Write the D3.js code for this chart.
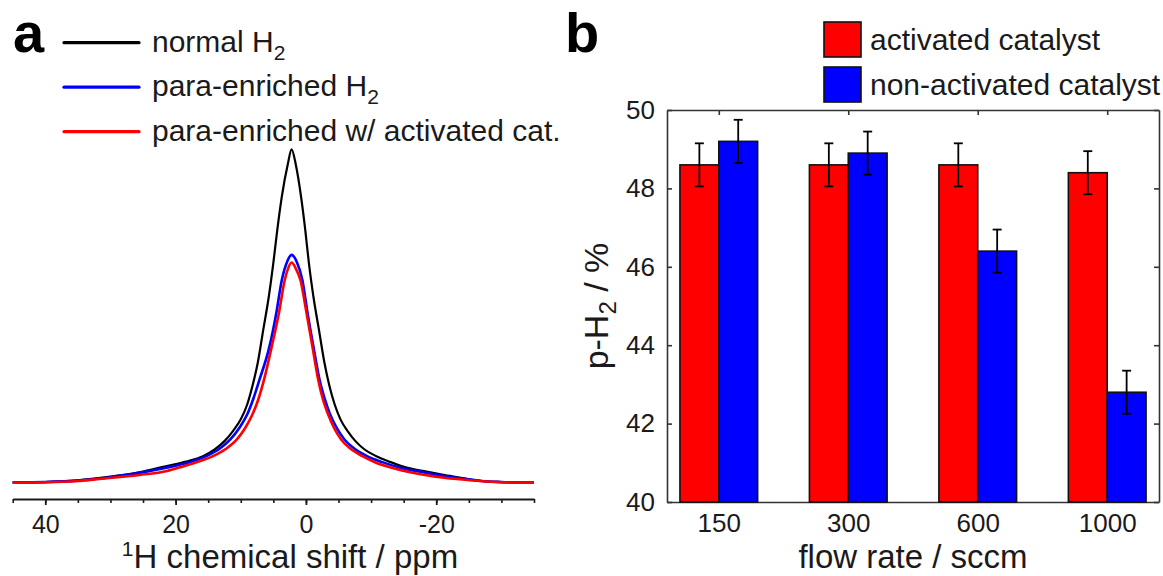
<!DOCTYPE html>
<html>
<head>
<meta charset="utf-8">
<script src="https://cdn.jsdelivr.net/npm/d3@7"></script>
<style>
  body { margin: 0; background: #fff; }
  svg { display: block; font-family: "Liberation Sans", Arial, Helvetica, sans-serif; }
</style>
</head>
<body>
<svg id="chart" width="1163" height="576"></svg>
<script>
// panel a: 1H spectra, [ppm, intensity relative to the normal H2 peak]
const normalH2 = [
    [45, 0.002], [40, 0.003], [35, 0.008], [30, 0.019], [26, 0.03], [22.6, 0.045],
    [18.6, 0.063], [15.8, 0.08], [14, 0.1], [12.5, 0.125], [11.2, 0.155], [10, 0.19],
    [9.0, 0.235], [8.2, 0.29], [7.4, 0.358], [6.55, 0.457], [5.7, 0.556], [5.0, 0.657],
    [4.4, 0.755], [3.7, 0.855], [2.8, 0.95], [2.2, 0.996], [1.55, 0.95], [0.75, 0.855],
    [0.1, 0.755], [-0.45, 0.657], [-1.15, 0.556], [-2.0, 0.457], [-2.85, 0.358], [-3.6, 0.29],
    [-4.4, 0.235], [-5.3, 0.19], [-6.4, 0.155], [-7.6, 0.125], [-9.0, 0.1], [-10.8, 0.08],
    [-12.9, 0.063], [-15.6, 0.045], [-18.5, 0.034], [-21.3, 0.024], [-24.5, 0.013],
    [-27, 0.006], [-30, 0.003], [-35, 0.001]
];
const paraH2 = [
    [45, 0.002], [40, 0.003], [35, 0.007], [30, 0.017], [27.8, 0.024], [24.5, 0.034],
    [21.6, 0.045], [17.8, 0.063], [15.2, 0.081], [13.2, 0.103], [11.6, 0.13], [10.2, 0.165],
    [9.0, 0.205], [8.1, 0.25], [7.15, 0.307], [5.6, 0.407], [4.55, 0.507], [3.7, 0.606],
    [2.9, 0.66], [2.2, 0.681], [1.4, 0.66], [0.55, 0.606], [-0.25, 0.507], [-1.15, 0.407],
    [-2.1, 0.307], [-2.9, 0.25], [-3.7, 0.205], [-4.7, 0.165], [-5.9, 0.13], [-7.4, 0.103],
    [-9.3, 0.081], [-11.6, 0.063], [-14.6, 0.045], [-17.5, 0.034], [-20.3, 0.024],
    [-24, 0.013], [-27, 0.006], [-30, 0.003], [-35, 0.001]
];
const paraActivated = [
    [45, 0.001], [40, 0.002], [35, 0.006], [31.7, 0.012], [28.5, 0.018], [25.5, 0.024],
    [21.3, 0.036], [19.3, 0.047], [16.8, 0.062], [14.2, 0.081], [12.2, 0.103], [10.6, 0.13],
    [9.3, 0.165], [8.2, 0.205], [7.3, 0.25], [6.45, 0.307], [5.25, 0.407], [4.15, 0.507],
    [3.25, 0.606], [2.75, 0.64], [2.2, 0.658], [1.55, 0.64], [0.85, 0.606], [-0.1, 0.507],
    [-1.0, 0.407], [-1.9, 0.307], [-2.6, 0.25], [-3.4, 0.205], [-4.3, 0.165], [-5.4, 0.13],
    [-6.8, 0.103], [-8.6, 0.081], [-10.6, 0.062], [-13.3, 0.045], [-16, 0.032],
    [-18.5, 0.023], [-21.5, 0.015], [-24.8, 0.009], [-30, 0.002], [-35, 0.001]
];
const spectraNames = ['normal H', 'para-enriched H', 'para-enriched w/ activated cat.'];
const spectraColors = ['#000000', '#0000ff', '#ff0000'];
const shiftTicks = [40, 20, 0, -20];

// panel b: p-H2 fraction vs flow rate
const flowRates = ['150', '300', '600', '1000'];
const activated = [48.6, 48.6, 48.6, 48.4];
const activatedErr = [0.55, 0.55, 0.55, 0.55];
const nonActivated = [49.2, 48.9, 46.4, 42.8];
const nonActivatedErr = [0.55, 0.55, 0.55, 0.55];
const pctTicks = [40, 42, 44, 46, 48, 50];
const barNames = ['activated catalyst', 'non-activated catalyst'];
const barColors = ['#ff0000', '#0000ff'];

const svg = d3.select('#chart');
const ink = '#1a1a1a';

// ---------- panel a ----------
const xa = d3.scaleLinear().domain([45, -35]).range([12.7, 534]);
const ya = d3.scaleLinear().domain([0, 1]).range([483, 148]);
const axisY = 499;

const minor = svg.append('g').attr('transform', `translate(0,${axisY})`)
    .call(d3.axisBottom(xa).tickValues(d3.range(45, -36, -5)).tickSize(4).tickSizeOuter(0).tickFormat(''));
minor.select('.domain').attr('stroke', ink).attr('stroke-width', 2);
minor.selectAll('.tick line').attr('stroke', ink).attr('stroke-width', 1.6);

const major = svg.append('g').attr('transform', `translate(0,${axisY})`)
    .call(d3.axisBottom(xa).tickValues(shiftTicks).tickSize(6).tickSizeOuter(0).tickPadding(10)
        .tickFormat(d => String(d)));
major.select('.domain').remove();
major.selectAll('.tick line').attr('stroke', ink).attr('stroke-width', 1.8);
major.selectAll('.tick text').attr('fill', ink).attr('font-size', 25).attr('font-family', null);

const line = d3.line().x(d => xa(d[0])).y(d => ya(d[1])).curve(d3.curveMonotoneX);
[normalH2, paraH2, paraActivated].forEach((s, i) => {
    svg.append('path').datum(s)
        .attr('d', line)
        .attr('fill', 'none')
        .attr('stroke', spectraColors[i])
        .attr('stroke-width', i ? 2.6 : 2.2)
        .attr('stroke-linejoin', 'round');
});

const xlabA = svg.append('text').attr('x', 290).attr('y', 568).attr('text-anchor', 'middle')
    .attr('fill', ink).attr('font-size', 33);
xlabA.append('tspan').attr('font-size', 21).attr('dy', -12).text('1');
xlabA.append('tspan').attr('dy', 12).text('H chemical shift / ppm');

// legend a
const legA = svg.append('g').selectAll('g').data(spectraNames).join('g')
    .attr('transform', (d, i) => `translate(0,${42.7 + i * 44.5})`);
legA.append('line').attr('x1', 64).attr('x2', 139)
    .attr('stroke', (d, i) => spectraColors[i]).attr('stroke-width', 3.2).attr('stroke-linecap', 'round');
const legAText = legA.append('text').attr('x', 152).attr('y', 9).attr('font-size', 30).attr('fill', ink);
legAText.append('tspan').text(d => d);
legAText.filter((d, i) => i < 2).append('tspan').attr('font-size', 21).attr('dy', 8).text('2');

svg.append('text').attr('x', 13).attr('y', 52).attr('font-size', 56).attr('font-weight', 'bold')
    .attr('fill', '#000').text('a');

// ---------- panel b ----------
const plotL = 667, plotR = 1159, plotT = 110, plotB = 502;
const xb = d3.scalePoint().domain(flowRates).range([plotL, plotR]).padding(0.4);
const yb = d3.scaleLinear().domain([40, 50]).range([plotB, plotT]);
const bw = xb.step() * 0.3;
const frame = '#333';

function styleFrame(g) {
    g.select('.domain').attr('stroke', frame).attr('stroke-width', 1.6);
    g.selectAll('.tick line').attr('stroke', frame).attr('stroke-width', 1.6);
    g.selectAll('.tick text').attr('fill', ink).attr('font-size', 26).attr('font-family', null);
}

svg.append('g').attr('transform', `translate(${plotL},0)`)
    .call(d3.axisLeft(yb).tickValues(pctTicks).tickSizeInner(-5).tickSizeOuter(0).tickPadding(12))
    .call(styleFrame);
svg.append('g').attr('transform', `translate(${plotR},0)`)
    .call(d3.axisRight(yb).tickValues(pctTicks).tickSizeInner(-5).tickSizeOuter(0).tickFormat(''))
    .call(styleFrame);
svg.append('g').attr('transform', `translate(0,${plotT})`)
    .call(d3.axisTop(xb).tickSizeInner(-5).tickSizeOuter(0).tickFormat(''))
    .call(styleFrame);
svg.append('g').attr('transform', `translate(0,${plotB})`)
    .call(d3.axisBottom(xb).tickSizeInner(-5).tickSizeOuter(0).tickPadding(12))
    .call(styleFrame);

const groups = [
    { vals: activated, errs: activatedErr, off: -bw },
    { vals: nonActivated, errs: nonActivatedErr, off: 0 }
];
groups.forEach((g, k) => {
    const rows = flowRates.map((f, i) => ({ f, v: g.vals[i], e: g.errs[i] }));
    svg.append('g').selectAll('rect').data(rows).join('rect')
        .attr('x', d => xb(d.f) + g.off)
        .attr('y', d => yb(d.v))
        .attr('width', bw)
        .attr('height', d => yb(40) - yb(d.v))
        .attr('fill', barColors[k])
        .attr('stroke', '#111')
        .attr('stroke-width', 1.6);
    const eb = svg.append('g').selectAll('g').data(rows).join('g')
        .attr('transform', d => `translate(${xb(d.f) + g.off + bw / 2},0)`)
        .attr('stroke', '#000').attr('stroke-width', 1.8);
    eb.append('line').attr('y1', d => yb(d.v + d.e)).attr('y2', d => yb(d.v - d.e));
    eb.append('line').attr('x1', -4.5).attr('x2', 4.5).attr('y1', d => yb(d.v + d.e)).attr('y2', d => yb(d.v + d.e));
    eb.append('line').attr('x1', -4.5).attr('x2', 4.5).attr('y1', d => yb(d.v - d.e)).attr('y2', d => yb(d.v - d.e));
});

svg.append('text').attr('x', (plotL + plotR) / 2).attr('y', 568).attr('text-anchor', 'middle')
    .attr('fill', ink).attr('font-size', 33).text('flow rate / sccm');

const ylab = svg.append('text').attr('transform', `translate(608,${(plotT + plotB) / 2}) rotate(-90)`)
    .attr('text-anchor', 'middle').attr('fill', ink).attr('font-size', 34);
ylab.append('tspan').text('p-H');
ylab.append('tspan').attr('font-size', 24).attr('dy', 8).text('2');
ylab.append('tspan').attr('dy', -8).text(' / %');

// legend b
const legB = svg.append('g').selectAll('g').data(barNames).join('g')
    .attr('transform', (d, i) => `translate(0,${39.5 + i * 45})`);
legB.append('rect').attr('x', 824).attr('y', -17.5).attr('width', 37).attr('height', 35)
    .attr('fill', (d, i) => barColors[i]).attr('stroke', '#111').attr('stroke-width', 1.6);
legB.append('text').attr('x', 870).attr('y', 10).attr('font-size', 30).attr('fill', ink).text(d => d);

svg.append('text').attr('x', 565).attr('y', 52).attr('font-size', 56).attr('font-weight', 'bold')
    .attr('fill', '#000').text('b');
</script>
</body>
</html>
